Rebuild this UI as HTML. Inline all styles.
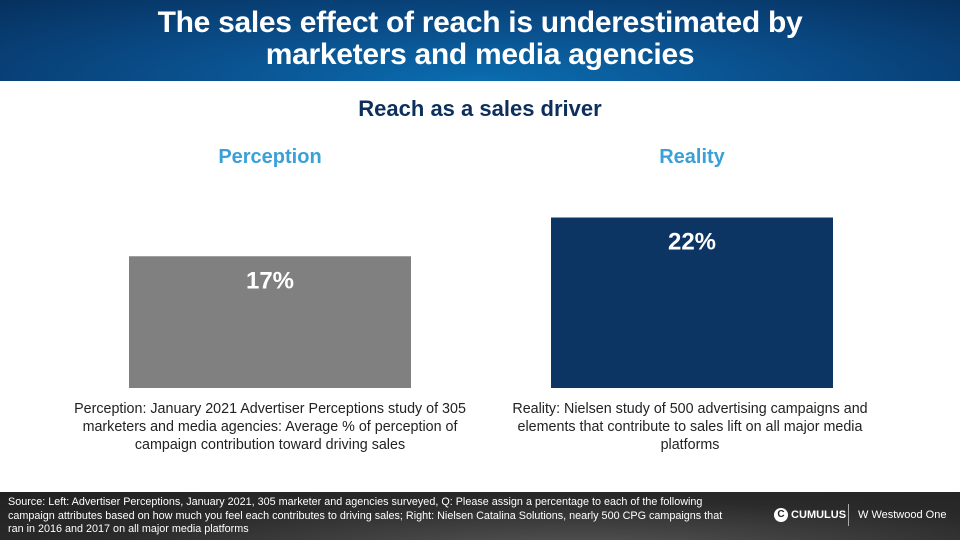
<!DOCTYPE html>
<html><head><meta charset="utf-8"><style>
body{margin:0;width:960px;height:540px;overflow:hidden;background:#fff;font-family:"Liberation Sans",sans-serif;position:relative}
#hdr{position:absolute;left:0;top:0;width:960px;height:81px;background:radial-gradient(ellipse at 50% 100%,#0a6db0 0%,#0a4f8c 45%,#06305e 100%);color:#fff;text-align:center;font-weight:bold;font-size:30px;line-height:32px;padding-top:7px;box-sizing:border-box;letter-spacing:-0.3px}
.t{position:absolute;text-align:center}
#ftr{position:absolute;left:0;top:492px;width:960px;height:48px;background:radial-gradient(ellipse at 60% 120%,#555 0%,#2a2a2a 60%,#222 100%);color:#fff;font-size:10.8px;line-height:13.5px}
</style></head><body>
<div id="hdr">The sales effect of reach is underestimated by<br>marketers and media agencies</div>
<div class="t" style="left:0;width:960px;top:96px;font-size:22px;font-weight:bold;color:#0d2f5c">Reach as a sales driver</div>
<div class="t" style="left:129px;width:282px;top:146px;font-size:20px;font-weight:bold;color:#3aa0d8">Perception</div>
<div class="t" style="left:551px;width:282px;top:146px;font-size:20px;font-weight:bold;color:#3aa0d8">Reality</div>
<svg id="chart" width="960" height="540" style="position:absolute;left:0;top:0"></svg>
<div class="t" style="left:62px;width:416px;top:400px;font-size:14.3px;line-height:18px;color:#222">Perception: January 2021 Advertiser Perceptions study of 305 marketers and media agencies: Average % of perception of campaign contribution toward driving sales</div>
<div class="t" style="left:488px;width:404px;top:400px;font-size:14.3px;line-height:18px;color:#222">Reality: Nielsen study of 500 advertising campaigns and elements that contribute to sales lift on all major media platforms</div>
<div id="ftr">
<div style="position:absolute;left:8px;top:4px;width:730px">Source: Left: Advertiser Perceptions, January 2021, 305 marketer and agencies surveyed, Q: Please assign a percentage to each of the following campaign attributes based on how much you feel each contributes to driving sales; Right: Nielsen Catalina Solutions, nearly 500 CPG campaigns that ran in 2016 and 2017 on all major media platforms</div>
<div style="position:absolute;left:774px;top:16px;font-weight:bold;font-size:11px"><span style="display:inline-block;width:14px;height:14px;border-radius:50%;background:#fff;color:#222;text-align:center;line-height:14px;font-size:10px;vertical-align:middle">C</span> CUMULUS</div>
<div style="position:absolute;left:848px;top:12px;width:1px;height:22px;background:#aaa"></div>
<div style="position:absolute;left:858px;top:17px;font-size:11px">W Westwood One</div>
</div>
<script>
const categories=["Perception","Reality"];
const values=[17,22];
const valueLabels=["17%","22%"];
const colors=["#808080","#0d3563"];
const svg=document.getElementById('chart');
const NS="http://www.w3.org/2000/svg";
const baseY=388, pxPer=7.75;
const y=v=>baseY-v*pxPer;
const x=i=>129+i*422;
const bw=282;
values.forEach((v,i)=>{
 const r=document.createElementNS(NS,'rect');
 r.setAttribute('x',x(i));r.setAttribute('y',y(v));r.setAttribute('width',bw);r.setAttribute('height',baseY-y(v));r.setAttribute('fill',colors[i]);
 
 
 svg.appendChild(r);
 const t=document.createElementNS(NS,'text');
 t.setAttribute('x',x(i)+bw/2);t.setAttribute('y',y(v)+32);t.setAttribute('text-anchor','middle');t.setAttribute('fill','#fff');t.setAttribute('font-size','24');t.setAttribute('font-weight','bold');t.setAttribute('font-family','Liberation Sans, sans-serif');
 t.textContent=valueLabels[i];
 
 
 svg.appendChild(t);
});
</script>
</body></html>
